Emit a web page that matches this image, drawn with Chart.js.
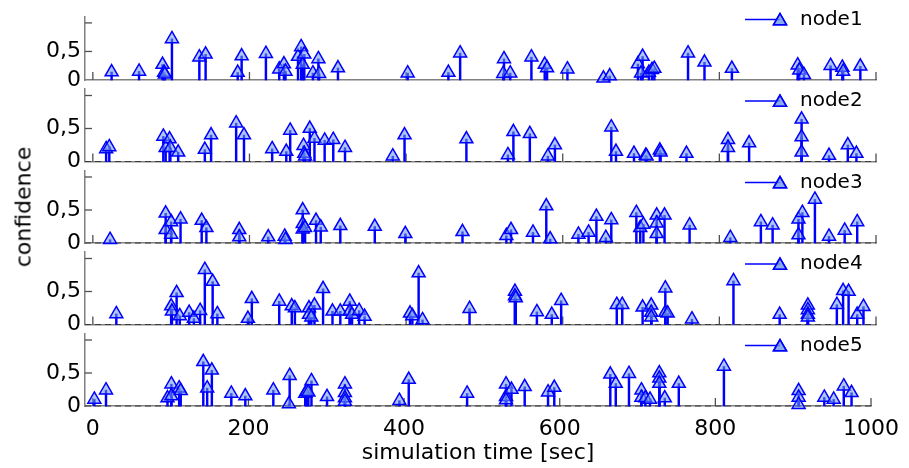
<!DOCTYPE html>
<html>
<head>
<meta charset="utf-8">
<script src="https://cdn.jsdelivr.net/npm/chart.js@4.4.0/dist/chart.umd.min.js"></script>
<style>
  body { margin: 0; background: #fff; }
  #wrap { position: relative; width: 909px; height: 468px; overflow: hidden; }
  #wrap canvas { position: absolute; left: 0; top: 0; }
  #ylab {
    position: absolute; left: 23px; top: 207px;
    transform: translate(-50%, -50%) rotate(-90deg);
    font: 22px "DejaVu Sans"; color: #000; white-space: nowrap;
  }
</style>
</head>
<body>
<div id="wrap">
  <canvas id="c1" width="909" height="468"></canvas>
  <canvas id="c2" width="909" height="468"></canvas>
  <canvas id="c3" width="909" height="468"></canvas>
  <canvas id="c4" width="909" height="468"></canvas>
  <canvas id="c5" width="909" height="468"></canvas>
  <div id="ylab">confidence</div>
</div>
<script>
// ---- data ----
var nodeNames = ["node1", "node2", "node3", "node4", "node5"];
var xTicks = [0, 200, 400, 600, 800, 1000];
var yTicks = [0, 0.5, 1];
var yTickLabels = ["0", "0,5", ""];

var node1Time = [24, 59, 89, 91, 92, 101, 136, 144, 185, 190, 221, 238, 244, 246, 262, 266, 268, 270, 281, 288, 289, 313, 402, 454, 469,
  524, 525, 533, 560, 577, 580, 606, 652, 660, 696, 700, 702, 710, 714, 717, 760, 781, 816, 900, 902, 908, 942, 957, 958, 980];
var node1Conf = [0.14, 0.15, 0.27, 0.13, 0.1, 0.72, 0.4, 0.45, 0.13, 0.42, 0.46, 0.19, 0.28, 0.15, 0.41, 0.58, 0.27, 0.45, 0.12, 0.37, 0.11, 0.21, 0.12, 0.13, 0.47,
  0.11, 0.37, 0.12, 0.4, 0.27, 0.21, 0.19, 0.03, 0.07, 0.28, 0.12, 0.41, 0.13, 0.18, 0.2, 0.47, 0.31, 0.2, 0.26, 0.17, 0.09, 0.25, 0.22, 0.15, 0.24];

var node2Time = [17, 21, 90, 93, 98, 99, 109, 143, 151, 183, 193, 229, 247, 252, 269, 270, 271, 277, 283, 296, 307, 322, 383, 398, 477,
  530, 537, 558, 581, 590, 662, 668, 691, 706, 707, 724, 725, 758, 811, 811, 838, 905, 905, 905, 940, 964, 975];
var node2Conf = [0.19, 0.22, 0.38, 0.21, 0.34, 0.21, 0.14, 0.18, 0.4, 0.58, 0.4, 0.19, 0.15, 0.47, 0.24, 0.12, 0.08, 0.5, 0.35, 0.32, 0.33, 0.21, 0.08, 0.4, 0.34,
  0.1, 0.45, 0.42, 0.08, 0.25, 0.52, 0.15, 0.12, 0.09, 0.08, 0.17, 0.14, 0.12, 0.33, 0.21, 0.28, 0.64, 0.37, 0.14, 0.09, 0.25, 0.12];

var node3Time = [22, 93, 93, 100, 100, 112, 139, 145, 187, 187, 224, 245, 246, 268, 268, 268, 271, 285, 291, 316, 360, 399, 472,
  528, 534, 562, 579, 584, 620, 633, 643, 655, 662, 694, 699, 703, 720, 720, 720, 730, 762, 814, 853, 868, 901, 906, 901, 922, 940, 960, 976];
var node3Conf = [0.05, 0.45, 0.2, 0.32, 0.13, 0.36, 0.34, 0.23, 0.2, 0.09, 0.09, 0.1, 0.05, 0.5, 0.29, 0.21, 0.23, 0.34, 0.24, 0.26, 0.25, 0.14, 0.17,
  0.11, 0.2, 0.16, 0.56, 0.06, 0.13, 0.16, 0.4, 0.08, 0.35, 0.46, 0.23, 0.28, 0.42, 0.3, 0.14, 0.42, 0.27, 0.08, 0.32, 0.27, 0.36, 0.46, 0.12, 0.66, 0.1, 0.19, 0.32];

var node4Time = [30, 100, 101, 107, 111, 123, 129, 137, 143, 153, 159, 198, 203, 238, 254, 258, 276, 276, 279, 283, 294, 306, 316, 328, 328, 331, 340, 347,
  405, 408, 416, 421, 481, 539, 539, 540, 567, 586, 598, 669, 676, 702, 713, 713, 713, 731, 731, 734, 765, 818, 877, 913, 913, 913, 913, 950, 958, 965, 976, 984];
var node4Conf = [0.16, 0.28, 0.2, 0.48, 0.13, 0.18, 0.09, 0.21, 0.83, 0.65, 0.16, 0.09, 0.39, 0.35, 0.28, 0.25, 0.25, 0.15, 0.11, 0.29, 0.54, 0.2, 0.2, 0.35, 0.2, 0.15, 0.21, 0.12,
  0.17, 0.13, 0.78, 0.07, 0.24, 0.5, 0.43, 0.4, 0.19, 0.15, 0.36, 0.3, 0.3, 0.26, 0.29, 0.18, 0.11, 0.55, 0.18, 0.17, 0.08, 0.66, 0.15, 0.29, 0.22, 0.15, 0.11, 0.3, 0.51, 0.5, 0.15, 0.27];

var node5Time = [2, 17, 96, 101, 101, 111, 113, 142, 147, 153, 178, 196, 232, 252, 253, 273, 275, 277, 281, 301, 324, 324, 324, 324, 394, 406, 481,
  531, 531, 531, 538, 555, 585, 593, 665, 672, 689, 705, 705, 710, 716, 728, 728, 728, 735, 753, 811, 907, 907, 907, 940, 952, 965, 975];
var node5Conf = [0.1, 0.24, 0.12, 0.33, 0.15, 0.27, 0.23, 0.67, 0.27, 0.54, 0.19, 0.15, 0.24, 0.03, 0.46, 0.19, 0.22, 0.21, 0.38, 0.14, 0.33, 0.2, 0.12, 0.07, 0.08, 0.4, 0.19,
  0.33, 0.14, 0.09, 0.25, 0.29, 0.21, 0.28, 0.48, 0.34, 0.49, 0.24, 0.13, 0.12, 0.1, 0.5, 0.42, 0.34, 0.12, 0.34, 0.6, 0.23, 0.13, 0.02, 0.13, 0.1, 0.3, 0.2];

var allTimes = [node1Time, node2Time, node3Time, node4Time, node5Time];
var allConf = [node1Conf, node2Conf, node3Conf, node4Conf, node5Conf];

// pixel row of the zero line of each panel
var zeroRows = [80, 161.5, 243, 324.5, 406];
var panelHeight = 72.6;

Chart.defaults.font.family = "'DejaVu Sans'";
Chart.defaults.font.size = 22;
Chart.defaults.color = "black";

var stemBlue = "#0000ff";
var markerFill = "rgba(110,150,230,0.55)";

// baseline, inward ticks and the little legend
var stemExtras = {
  id: "stemExtras",
  beforeDatasetsDraw: function (chart, args, opts) {
    var ctx = chart.ctx, a = chart.chartArea, x = chart.scales.x, y = chart.scales.y;
    ctx.save();
    ctx.strokeStyle = "#505050";
    ctx.lineWidth = 1.3;
    xTicks.forEach(function (v) {
      var px = x.getPixelForValue(v);
      ctx.beginPath(); ctx.moveTo(px, a.bottom); ctx.lineTo(px, a.bottom - 8); ctx.stroke();
    });
    yTicks.slice(1).forEach(function (v) {
      var py = y.getPixelForValue(v);
      ctx.beginPath(); ctx.moveTo(a.left, py); ctx.lineTo(a.left + 7, py); ctx.stroke();
    });
    if (opts.dashed) {
      var y0 = y.getPixelForValue(0);
      ctx.strokeStyle = "#3a3a3a";
      ctx.lineWidth = 1.2;
      ctx.setLineDash([6, 4]);
      ctx.beginPath(); ctx.moveTo(a.left, y0); ctx.lineTo(a.right, y0); ctx.stroke();
    }
    ctx.restore();
  },
  afterDraw: function (chart, args, opts) {
    var ctx = chart.ctx;
    var ly = chart.scales.y.getPixelForValue(0) - 60.5;
    ctx.save();
    ctx.strokeStyle = stemBlue;
    ctx.lineWidth = 1.5;
    ctx.beginPath(); ctx.moveTo(745, ly); ctx.lineTo(780, ly); ctx.stroke();
    Chart.helpers.drawPoint(ctx, {pointStyle: "triangle", radius: 7.5, borderWidth: 1.5}, 780, ly + 1.5);
    ctx.fillStyle = markerFill;
    ctx.fill();
    ctx.stroke();
    ctx.fillStyle = "black";
    ctx.font = "20px 'DejaVu Sans'";
    ctx.textBaseline = "middle";
    ctx.fillText(opts.label, 800, ly);
    ctx.restore();
  }
};

function makePanel(i) {
  var last = i === 4;
  var pts = allTimes[i].map(function (t, k) { return {x: t, y: allConf[i][k]}; });
  var xHeight = last ? 62 : 0;
  return new Chart(document.getElementById("c" + (i + 1)), {
    type: "bar",
    data: {
      datasets: [{
        type: "scatter",
        data: pts,
        pointStyle: "triangle",
        pointRadius: 7.5,
        borderWidth: 1.5,
        borderColor: stemBlue,
        backgroundColor: markerFill,
        clip: false,
        order: 0
      }, {
        type: "bar",
        data: pts,
        barThickness: 1.8,
        backgroundColor: stemBlue,
        grouped: false,
        clip: false,
        order: 1
      }]
    },
    options: {
      responsive: false,
      animation: false,
      events: [],
      layout: {
        padding: {top: zeroRows[i] - panelHeight, bottom: 468 - zeroRows[i] - xHeight, left: 0, right: 33}
      },
      plugins: {
        legend: {display: false},
        tooltip: {enabled: false},
        stemExtras: {label: nodeNames[i], dashed: i > 0}
      },
      scales: {
        x: {
          type: "linear",
          min: -10,
          max: 1000,
          offset: false,
          grid: {display: false, drawTicks: false},
          border: {display: true, color: "#808080", width: 1.5},
          afterBuildTicks: function (s) { s.ticks = xTicks.map(function (v) { return {value: v}; }); },
          afterFit: function (s) { s.height = xHeight; },
          ticks: {
            display: last, padding: 10, maxRotation: 0, autoSkip: false,
            callback: function (v) { return String(v); }
          },
          title: {display: last, text: "simulation time [sec]", padding: {top: 0, bottom: 2}}
        },
        y: {
          min: 0,
          max: 1.1,
          grid: {display: false, drawTicks: false},
          border: {display: true, color: "#808080", width: 1.5},
          afterBuildTicks: function (s) { s.ticks = yTicks.map(function (v) { return {value: v}; }); },
          afterFit: function (s) { s.width = 85; },
          ticks: {
            padding: 4,
            callback: function (v) { return yTickLabels[yTicks.indexOf(v)]; }
          }
        }
      }
    },
    plugins: [stemExtras]
  });
}

for (var i = 0; i < 5; i++) makePanel(i);
</script>
</body>
</html>
